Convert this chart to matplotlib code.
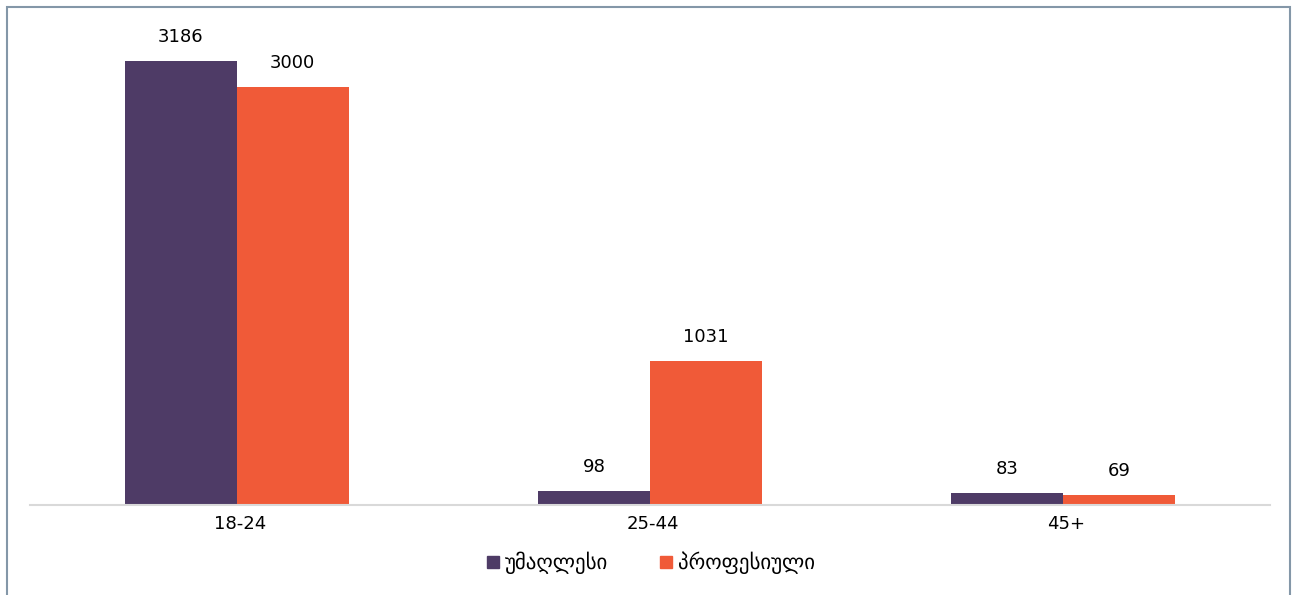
import numpy as np
import matplotlib
matplotlib.use('Agg')
import matplotlib.pyplot as plt
import matplotlib.transforms as mtransforms
from matplotlib.lines import Line2D
from matplotlib.patches import Rectangle

plt.rcParams['font.family'] = ['DejaVu Sans']

# data
age_groups = ['18-24', '25-44', '45+']
higher = [3186, 98, 83]          # უმაღლესი
vocational = [3000, 1031, 69]    # პროფესიული
series_names = ['უმაღლესი', 'პროფესიული']

c_purple = '#4E3B66'
c_orange = '#F05A38'

fig = plt.figure(figsize=(12.92, 5.95), dpi=100)
ax = fig.add_axes([30/1292, 90/595, 1240/1292, (505-20)/595])

x = np.arange(len(age_groups))
w = 0.271
b1 = ax.bar(x - w/2, higher, w, color=c_purple)
b2 = ax.bar(x + w/2, vocational, w, color=c_orange)

for bars, vals in ((b1, higher), (b2, vocational)):
    for b, v in zip(bars, vals):
        ax.annotate(str(v), (b.get_x() + b.get_width()/2, v),
                    xytext=(0, 11), textcoords='offset points',
                    ha='center', va='bottom', fontsize=13, color='black')

ax.set_xlim(-0.5, 2.5)
ax.set_ylim(0, 3480)
ax.set_xticks(x)
ax.set_xticklabels(age_groups, fontsize=13)
ax.tick_params(axis='x', length=0, pad=7)
# nudge tick labels a little to the right, like the original
shift = mtransforms.ScaledTranslation(3/100, 0, fig.dpi_scale_trans)
for lbl in ax.get_xticklabels():
    lbl.set_transform(lbl.get_transform() + shift)
ax.set_yticks([])
for s in ['top', 'left', 'right']:
    ax.spines[s].set_visible(False)
ax.spines['bottom'].set_color('#D9D9D9')
ax.spines['bottom'].set_linewidth(1.5)

handles = [Line2D([], [], marker='s', linestyle='none', markersize=9,
                  color=c, markeredgecolor=c) for c in (c_purple, c_orange)]
fig.legend(handles, series_names, loc='center', bbox_to_anchor=(650/1292, 1 - 563/595),
           ncol=2, frameon=False, fontsize=15, handletextpad=0.15,
           columnspacing=2.4, handlelength=0.8)

# outer frame
fig.patches.append(Rectangle((7/1292, -0.01), 1283/1292, 1 - 7/595 + 0.01,
                             transform=fig.transFigure, fill=False,
                             edgecolor='#8497A8', linewidth=1.5))

fig.savefig('out.png', dpi=100)
